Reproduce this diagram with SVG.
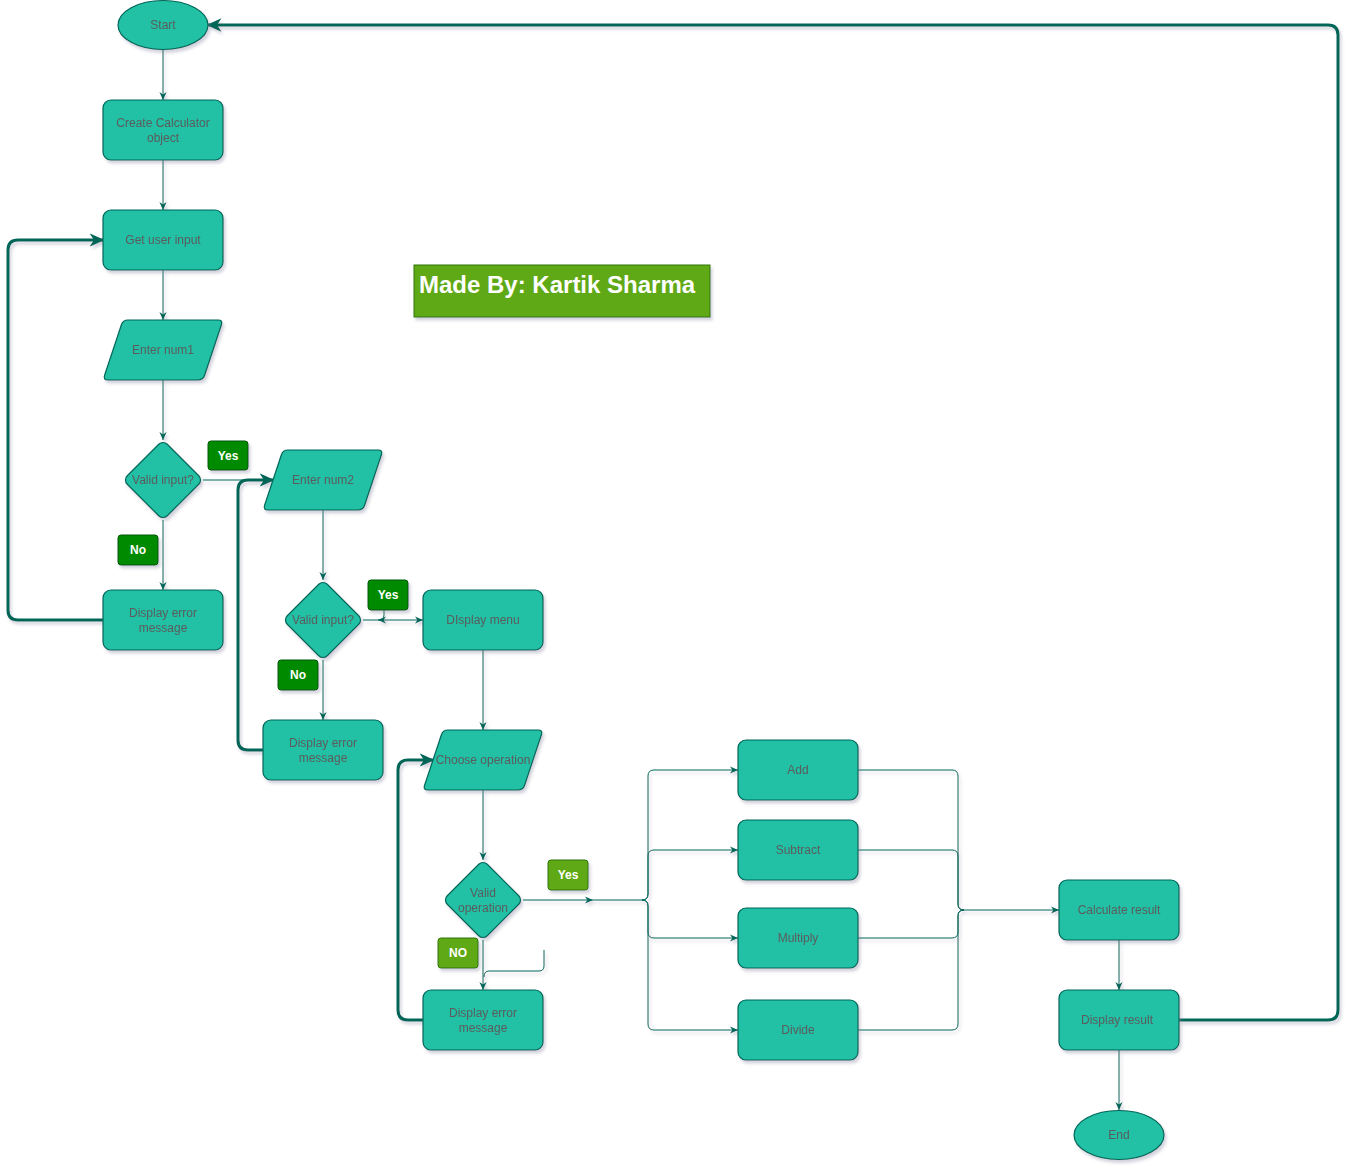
<svg xmlns="http://www.w3.org/2000/svg" width="1360" height="1172" viewBox="0 0 1360 1172">
<style>
.n{fill:#21C0A5;stroke:#006658;stroke-width:1.2}
.t{font-family:"Liberation Sans",Arial,sans-serif;font-size:12px;fill:#5C5C5C;text-anchor:middle}
.lb{font-family:"Liberation Sans",Arial,sans-serif;font-size:12px;font-weight:bold;fill:#ffffff;text-anchor:middle}
.g1{fill:#008a00;stroke:#005700}
.g2{fill:#60a917;stroke:#2d7600}
.c{fill:none;stroke:#006658;stroke-width:1}
.k{fill:none;stroke:#006658;stroke-width:3}
</style>
<defs>
<filter id="sh" x="-20%" y="-20%" width="150%" height="150%">
<feDropShadow dx="2" dy="3" stdDeviation="1.5" flood-color="#8080a0" flood-opacity="0.35"/>
</filter>
<marker id="a" viewBox="0 0 10 10" refX="10" refY="5" markerWidth="8" markerHeight="8" markerUnits="userSpaceOnUse" orient="auto">
<path d="M0,0.5 L10,5 L0,9.5 L3,5 z" fill="#006658"/>
</marker>
<marker id="b" viewBox="0 0 10 10" refX="9" refY="5" markerWidth="15" markerHeight="15" markerUnits="userSpaceOnUse" orient="auto">
<path d="M0,0.5 L10,5 L0,9.5 L3,5 z" fill="#006658"/>
</marker>
</defs>

<g id="connectors" filter="url(#sh)">
<path class="c" d="M163 50 L163 100" marker-end="url(#a)"/>
<path class="c" d="M163 160 L163 210" marker-end="url(#a)"/>
<path class="c" d="M163 270 L163 320" marker-end="url(#a)"/>
<path class="c" d="M163 380 L163 440" marker-end="url(#a)"/>
<path class="c" d="M203 480 L273 480" marker-end="url(#a)"/>
<path class="c" d="M163 520 L163 590" marker-end="url(#a)"/>
<path class="k" d="M103 620 L18 620 Q8 620 8 610 L8 250 Q8 240 18 240 L103 240" marker-end="url(#b)"/>
<path class="c" d="M323 510 L323 580" marker-end="url(#a)"/>
<path class="c" d="M363 620 L423 620" marker-end="url(#a)"/>
<path class="c" d="M384 610 L384 615 Q384 620 378 620" marker-end="url(#a)"/>
<path class="c" d="M323 660 L323 720" marker-end="url(#a)"/>
<path class="k" d="M263 750 L248 750 Q238 750 238 740 L238 490 Q238 480 248 480 L273 480" marker-end="url(#b)"/>
<path class="c" d="M483 650 L483 730" marker-end="url(#a)"/>
<path class="c" d="M483 790 L483 860" marker-end="url(#a)"/>
<path class="c" d="M483 940 L483 990" marker-end="url(#a)"/>
<path class="c" d="M544 950 L544 966 Q544 971 539 971 L489 971 Q484 971 484 977"/>
<path class="k" d="M423 1020 L408 1020 Q398 1020 398 1010 L398 770 Q398 760 408 760 L433 760" marker-end="url(#b)"/>
<path class="c" d="M523 900 L593 900" marker-end="url(#a)"/>
<path class="c" d="M593 900 L642 900 Q648 900 648 894 L648 776 Q648 770 654 770 L738 770" marker-end="url(#a)"/>
<path class="c" d="M642 900 Q648 900 648 894 L648 856 Q648 850 654 850 L738 850" marker-end="url(#a)"/>
<path class="c" d="M642 900 Q648 900 648 906 L648 932 Q648 938 654 938 L738 938" marker-end="url(#a)"/>
<path class="c" d="M642 900 Q648 900 648 906 L648 1024 Q648 1030 654 1030 L738 1030" marker-end="url(#a)"/>
<path class="c" d="M858 770 L952 770 Q958 770 958 776 L958 904 Q958 910 964 910 L1059 910" marker-end="url(#a)"/>
<path class="c" d="M858 850 L952 850 Q958 850 958 856 L958 904 Q958 910 964 910"/>
<path class="c" d="M858 938 L952 938 Q958 938 958 932 L958 916 Q958 910 964 910"/>
<path class="c" d="M858 1030 L952 1030 Q958 1030 958 1024 L958 916 Q958 910 964 910"/>
<path class="c" d="M1119 940 L1119 990" marker-end="url(#a)"/>
<path class="c" d="M1119 1050 L1119 1110" marker-end="url(#a)"/>
<path class="k" d="M1179 1020 L1328 1020 Q1338 1020 1338 1010 L1338 35 Q1338 25 1328 25 L208 25" marker-end="url(#b)"/>
</g>

<g id="start" filter="url(#sh)"><ellipse class="n" cx="163" cy="25" rx="45" ry="24.5"/><text class="t" x="163" y="29">Start</text></g>
<g id="create" filter="url(#sh)"><rect class="n" x="103" y="100" width="120" height="60" rx="8"/><text class="t" x="163" y="126.5">Create Calculator</text><text class="t" x="163" y="141.5">object</text></g>
<g id="getinput" filter="url(#sh)"><rect class="n" x="103" y="210" width="120" height="60" rx="8"/><text class="t" x="163" y="244">Get user input</text></g>
<g id="num1" filter="url(#sh)"><path class="n" transform="translate(103 320)" d="M25 0 L115 0 Q120 0 118.4 4.7 L101.6 55.3 Q100 60 95 60 L5 60 Q0 60 1.6 55.3 L18.4 4.7 Q20 0 25 0 Z"/><text class="t" x="163" y="354">Enter num1</text></g>
<g id="valid1" filter="url(#sh)"><rect class="n" x="-28.28" y="-28.28" width="56.57" height="56.57" rx="6" transform="translate(163 480) rotate(45)"/><text class="t" x="163" y="484">Valid input?</text></g>
<g id="yes1"><rect class="g1" x="208" y="441" width="40" height="29" rx="3" filter="url(#sh)"/><text class="lb" x="228" y="459.5">Yes</text></g>
<g id="no1"><rect class="g1" x="118" y="535" width="40" height="30" rx="3" filter="url(#sh)"/><text class="lb" x="138" y="554">No</text></g>
<g id="err1" filter="url(#sh)"><rect class="n" x="103" y="590" width="120" height="60" rx="8"/><text class="t" x="163" y="616.5">Display error</text><text class="t" x="163" y="631.5">message</text></g>
<g id="num2" filter="url(#sh)"><path class="n" transform="translate(263 450)" d="M25 0 L115 0 Q120 0 118.4 4.7 L101.6 55.3 Q100 60 95 60 L5 60 Q0 60 1.6 55.3 L18.4 4.7 Q20 0 25 0 Z"/><text class="t" x="323" y="484">Enter num2</text></g>
<g id="valid2" filter="url(#sh)"><rect class="n" x="-28.28" y="-28.28" width="56.57" height="56.57" rx="6" transform="translate(323 620) rotate(45)"/><text class="t" x="323" y="624">Valid input?</text></g>
<g id="yes2"><rect class="g1" x="368" y="580" width="40" height="30" rx="3" filter="url(#sh)"/><text class="lb" x="388" y="599">Yes</text></g>
<g id="no2"><rect class="g1" x="278" y="660" width="40" height="30" rx="3" filter="url(#sh)"/><text class="lb" x="298" y="679">No</text></g>
<g id="err2" filter="url(#sh)"><rect class="n" x="263" y="720" width="120" height="60" rx="8"/><text class="t" x="323" y="746.5">Display error</text><text class="t" x="323" y="761.5">message</text></g>
<g id="menu" filter="url(#sh)"><rect class="n" x="423" y="590" width="120" height="60" rx="8"/><text class="t" x="483" y="624">DIsplay menu</text></g>
<g id="choose" filter="url(#sh)"><path class="n" transform="translate(423 730)" d="M25 0 L115 0 Q120 0 118.4 4.7 L101.6 55.3 Q100 60 95 60 L5 60 Q0 60 1.6 55.3 L18.4 4.7 Q20 0 25 0 Z"/><text class="t" x="483" y="764">Choose operation</text></g>
<g id="valid3" filter="url(#sh)"><rect class="n" x="-28.28" y="-28.28" width="56.57" height="56.57" rx="6" transform="translate(483 900) rotate(45)"/><text class="t" x="483" y="896.5">Valid</text><text class="t" x="483" y="911.5">operation</text></g>
<g id="yes3"><rect class="g2" x="548" y="860" width="40" height="30" rx="3" filter="url(#sh)"/><text class="lb" x="568" y="879">Yes</text></g>
<g id="no3"><rect class="g2" x="438" y="938" width="40" height="30" rx="3" filter="url(#sh)"/><text class="lb" x="458" y="957">NO</text></g>
<g id="err3" filter="url(#sh)"><rect class="n" x="423" y="990" width="120" height="60" rx="8"/><text class="t" x="483" y="1016.5">Display error</text><text class="t" x="483" y="1031.5">message</text></g>
<g id="add" filter="url(#sh)"><rect class="n" x="738" y="740" width="120" height="60" rx="8"/><text class="t" x="798" y="774">Add</text></g>
<g id="subtract" filter="url(#sh)"><rect class="n" x="738" y="820" width="120" height="60" rx="8"/><text class="t" x="798" y="854">Subtract</text></g>
<g id="multiply" filter="url(#sh)"><rect class="n" x="738" y="908" width="120" height="60" rx="8"/><text class="t" x="798" y="942">Multiply</text></g>
<g id="divide" filter="url(#sh)"><rect class="n" x="738" y="1000" width="120" height="60" rx="8"/><text class="t" x="798" y="1034">Divide</text></g>
<g id="calc" filter="url(#sh)"><rect class="n" x="1059" y="880" width="120" height="60" rx="8"/><text class="t" x="1119" y="914">Calculate result</text></g>
<g id="display" filter="url(#sh)"><rect class="n" x="1059" y="990" width="120" height="60" rx="8"/><text class="t" x="1117" y="1024">Display result</text></g>
<g id="end" filter="url(#sh)"><ellipse class="n" cx="1119" cy="1135" rx="45" ry="24.5"/><text class="t" x="1119" y="1139">End</text></g>
<g id="madeby"><rect x="414" y="265" width="296" height="52" fill="#60a917" stroke="#2d7600" filter="url(#sh)"/><text x="419" y="293" font-family="'Liberation Sans',Arial,sans-serif" font-size="24" font-weight="bold" fill="#ffffff">Made By: Kartik Sharma</text></g>
</svg>
